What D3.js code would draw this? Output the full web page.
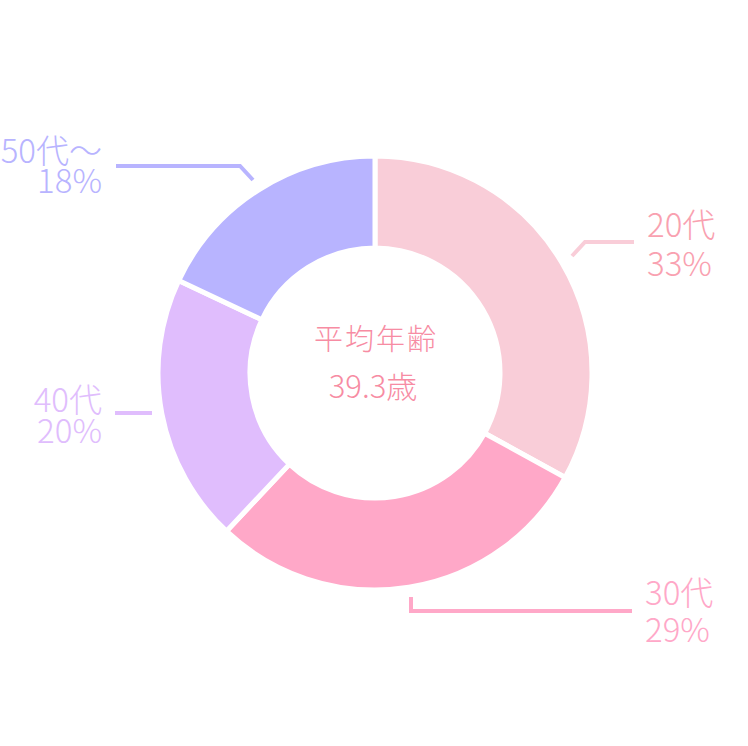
<!DOCTYPE html>
<html>
<head>
<meta charset="utf-8">
<script src="https://cdn.jsdelivr.net/npm/d3@7.9.0/dist/d3.min.js"></script>
<style>
  html, body { margin: 0; padding: 0; background: #fff; }
  svg { display: block; }
  text { font-family: "Noto Sans CJK JP", "Noto Sans", sans-serif; font-weight: 300; }
</style>
</head>
<body>
<svg id="chart" width="748" height="746"></svg>
<script>
// Data
const categories = ['20代', '30代', '40代', '50代～'];
const shares = [33, 29, 20, 18];
const sliceColors = ['#f9cdd8', '#ffa8c8', '#e0bdfd', '#b8b4ff'];
const labelColors = ['#f9a1b0', '#ffa8c8', '#e0bdfd', '#b8b4ff'];
const centerTitle = '平均年齢';
const centerValue = '39.3歳';

const width = 748, height = 746;
const cx = 375, cy = 373;
const outerR = 217, innerR = 125;

const svg = d3.select('#chart');
const g = svg.append('g').attr('transform', `translate(${cx},${cy})`);

const data = categories.map((c, i) => ({ label: c, value: shares[i], i }));
const pie = d3.pie().sort(null).value(d => d.value);
const arc = d3.arc().innerRadius(innerR).outerRadius(outerR);
const arcs = pie(data);

g.selectAll('path.slice')
  .data(arcs)
  .join('path')
  .attr('class', 'slice')
  .attr('d', arc)
  .attr('fill', d => sliceColors[d.data.i])
  .attr('stroke', '#fff')
  .attr('stroke-width', 5);

// Leader lines (relative to chart centre) + label anchors
const leaders = [
  { pts: [[197, -117], [210, -131], [259, -131]], x: 272, y: [-136, -97], anchor: 'start' },
  { pts: [[36, 224], [36, 238], [257, 238]], x: 270, y: [232, 269], anchor: 'start' },
  { pts: [[-223, 40], [-260, 40]], x: -273, y: [39, 70], anchor: 'end' },
  { pts: [[-122, -193], [-135, -207], [-259, -207]], x: -273, y: [-210, -180], anchor: 'end' }
];

const line = d3.line();
g.selectAll('path.leader')
  .data(leaders)
  .join('path')
  .attr('class', 'leader')
  .attr('d', d => line(d.pts))
  .attr('fill', 'none')
  .attr('stroke', (d, i) => sliceColors[i])
  .attr('stroke-width', 4);

// two-line labels as one text element each
const labels = g.selectAll('text.label')
  .data(leaders)
  .join('text')
  .attr('class', 'label')
  .attr('text-anchor', d => d.anchor)
  .attr('font-size', 33)
  .attr('fill', (d, i) => labelColors[i]);

labels.append('tspan')
  .attr('x', d => d.x)
  .attr('y', d => d.y[0])
  .text((d, i) => categories[i]);

labels.append('tspan')
  .attr('x', d => d.x)
  .attr('y', d => d.y[1])
  .text((d, i) => shares[i] + '%');

// Centre text
g.append('text')
  .attr('x', 1)
  .attr('y', -23)
  .attr('text-anchor', 'middle')
  .attr('font-size', 29)
  .attr('letter-spacing', 2)
  .attr('fill', '#f78ca3')
  .text(centerTitle);

g.append('text')
  .attr('x', -2)
  .attr('y', 25)
  .attr('text-anchor', 'middle')
  .attr('font-size', 31)
  .attr('fill', '#f78ca3')
  .text(centerValue);
</script>
</body>
</html>
